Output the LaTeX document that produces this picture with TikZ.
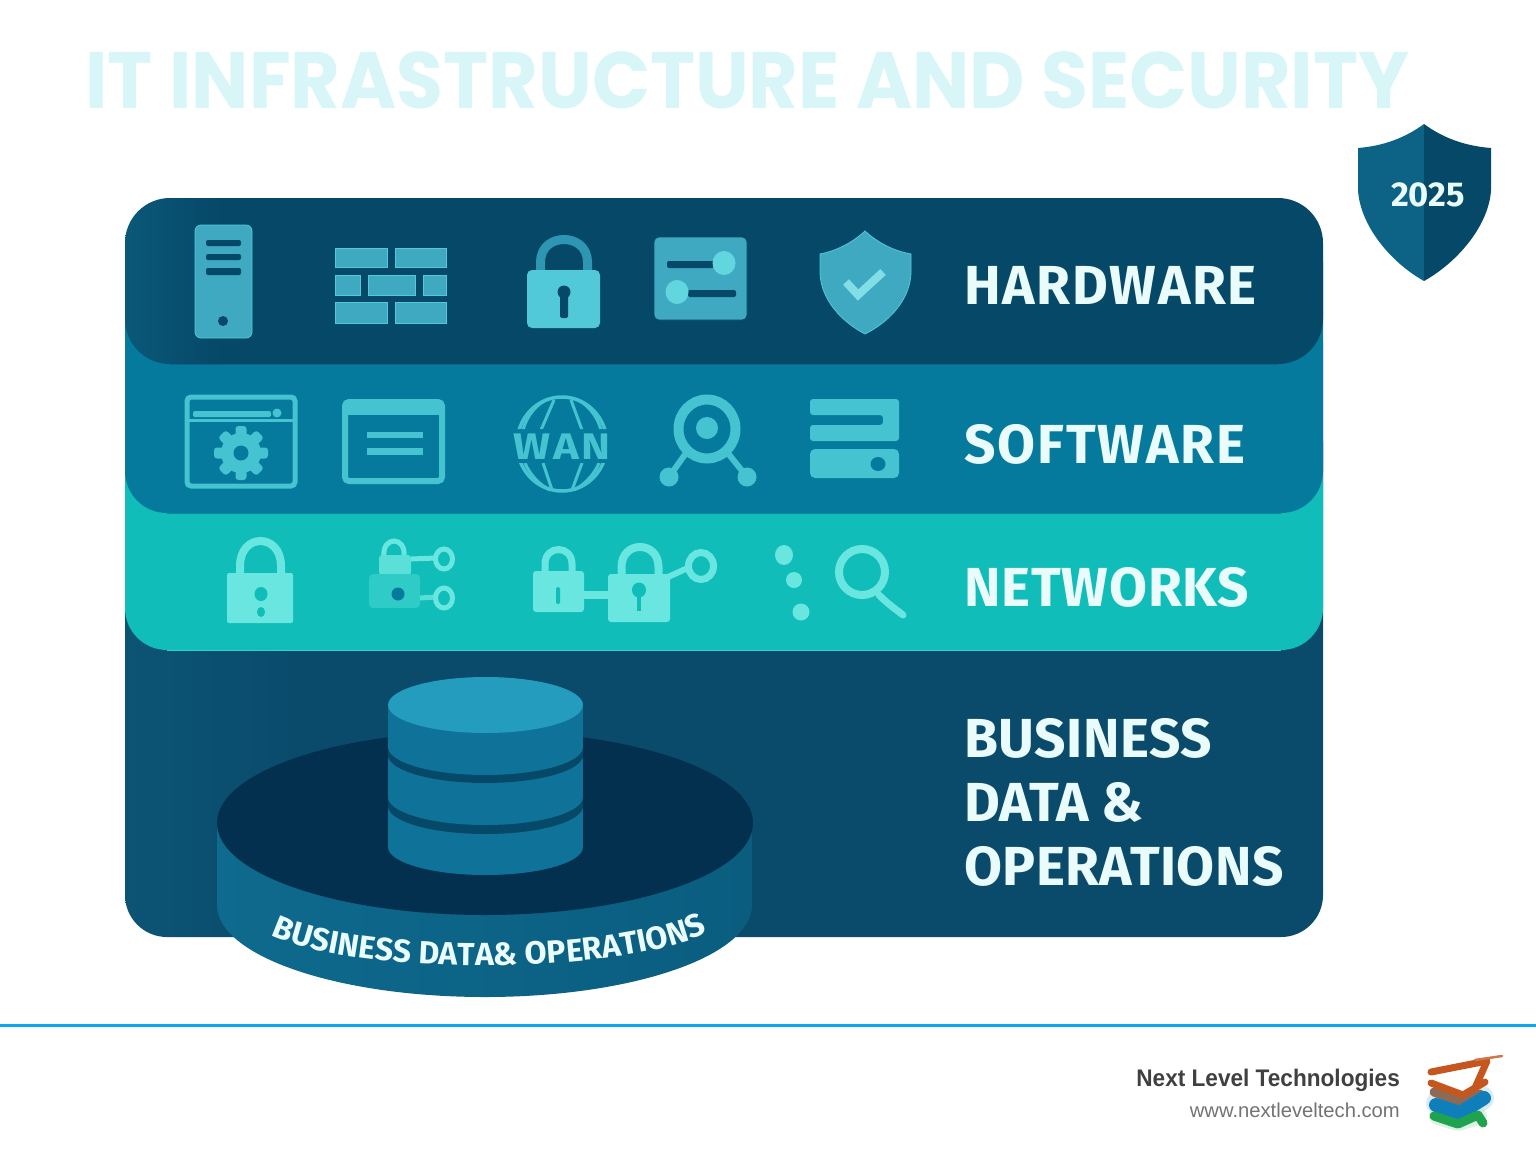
\documentclass[tikz,border=0pt]{standalone}
\usepackage{fontspec}
\usepackage{graphicx}
\setmainfont{Fira Sans}
\newfontfamily\titlefont{Poppins}
\newfontfamily\footfont{Liberation Sans}
\usetikzlibrary{decorations.text}
\definecolor{hwbase}{HTML}{064868}
\definecolor{hwedge}{HTML}{0A5878}
\definecolor{swbase}{HTML}{067A9C}
\definecolor{swedge}{HTML}{0A8A9E}
\definecolor{nwbase}{HTML}{10BDB9}
\definecolor{nwline}{HTML}{2ED3CB}
\definecolor{bzbase}{HTML}{0A4A6B}
\definecolor{bzedge}{HTML}{0C5474}
\definecolor{hwicon}{HTML}{3FA9C2}
\definecolor{hwlight}{HTML}{52C9D8}
\definecolor{hwknob}{HTML}{62D6DE}
\definecolor{hwshack}{HTML}{2E96B2}
\definecolor{swicon}{HTML}{45C3D1}
\definecolor{nwicon}{HTML}{68E6DF}
\definecolor{diskdark}{HTML}{03304F}
\definecolor{dbtop}{HTML}{239CBD}
\definecolor{dbbody}{HTML}{0F7399}
\definecolor{dbband}{HTML}{064868}
\definecolor{sidea}{HTML}{0E6A8E}
\definecolor{sideb}{HTML}{0A5D7F}
\definecolor{labeltext}{HTML}{E9FBFA}
\definecolor{titletext}{HTML}{D8F6F8}
\definecolor{ruleblue}{HTML}{0AA8F0}
\definecolor{logoorange}{HTML}{C4561E}
\definecolor{logobrown}{HTML}{8E6A55}
\definecolor{logoblue}{HTML}{0F7FBC}
\definecolor{logogreen}{HTML}{1FA34E}
\pgfdeclarehorizontalshading{hwshade}{100bp}{color(0bp)=(hwedge); color(25bp)=(hwedge); color(29bp)=(hwbase); color(100bp)=(hwbase)}
\pgfdeclarehorizontalshading{bzshade}{100bp}{color(0bp)=(bzedge); color(25bp)=(bzedge); color(33bp)=(bzbase); color(100bp)=(bzbase)}
\tikzset{
  layerbox/.style={rounded corners=42pt},
  bandlabel/.style={anchor=base west,inner sep=0pt,text=labeltext,font=\fontsize{55}{55}\selectfont\bfseries},
  slot/.style={fill=hwbase,rounded corners=2pt},
  hwfill/.style={fill=hwicon,draw=hwlight,line width=.8pt},
  swstroke/.style={draw=swicon,line cap=round,line join=round},
  nwstroke/.style={draw=nwicon,line cap=round,line join=round},
  logostroke/.style={line cap=round,line join=round},
}
\newcommand{\dbcyl}[3]{%
  \fill[#3] (388,#1) rectangle (583,#2);
  \fill[#3] (485.5,#2) ellipse [x radius=97.5pt,y radius=28pt];
  \fill[#3] (485.5,#1) ellipse [x radius=97.5pt,y radius=28pt];}
\begin{document}
\begin{tikzpicture}[x=1pt,y=-1pt]
\useasboundingbox (0,0) rectangle (1536,1154);
\fill[white] (0,0) rectangle (1536,1154);

% title
\node[anchor=base,inner sep=0pt,text=titletext] (title) at (747.5,108)
  {\scalebox{.953}[1]{\titlefont\fontsize{80}{80}\selectfont\bfseries IT INFRASTRUCTURE AND SECURITY}};

% layers, back to front: the upper corners of each lie hidden under the next one
\shade[layerbox,shading=bzshade] (125,400) rectangle (1323,937);
\fill[layerbox,fill=nwbase] (125,300) rectangle (1323,650);
\draw[nwline,line width=1pt] (167,650) -- (1281,650);
\fill[layerbox,fill=swbase] (125,220) rectangle (1323,513);
\draw[swedge,line width=1pt] (167,513) -- (1281,513);
\shade[rounded corners=45pt,shading=hwshade] (125,198) rectangle (1323,364);
\draw[swbase!60!hwbase,line width=1pt] (170,364) -- (1278,364);

% hardware icons
\fill[hwfill,rounded corners=6pt] (195,225) rectangle (252,338);
\fill[slot] (206,240) rectangle (241,246);
\fill[slot] (206,254) rectangle (241,260);
\fill[slot] (206,268) rectangle (241,275);
\fill[hwbase] (223,321) circle (5pt);
\foreach \xa/\ya/\xb/\yb in {335/248/387/267,395/248/446/267,335/275/360/295,368/275/415/295,423/275/446/295,335/302/387/323,395/302/446/323}
  \fill[hwfill] (\xa,\ya) rectangle (\xb,\yb);
\draw[hwshack,line width=9pt] (540.5,272) -- (540.5,262) .. controls (540.5,232) and (587.5,232) .. (587.5,262) -- (587.5,272);
\fill[hwlight,rounded corners=5pt] (527,270) rectangle (600,328);
\fill[hwbase] (564,292) ellipse [x radius=6.5pt,y radius=6.5pt];
\fill[hwbase,rounded corners=1.5pt] (560,294) rectangle (568,318);
\fill[hwicon,draw=hwbase,line width=.6pt,rounded corners=5pt] (654,237) rectangle (747,320);
\fill[hwbase,rounded corners=2pt] (667,261) rectangle (714,268);
\fill[hwknob] (724,263) ellipse [x radius=11.5pt,y radius=12pt];
\fill[hwbase,rounded corners=2pt] (688,290) rectangle (736,297);
\fill[hwknob] (677,292) ellipse [x radius=11.5pt,y radius=12pt];
\path[hwfill] (865,231) .. controls (852,243) and (836,251) .. (820,254)
  -- (820,273) .. controls (821,300) and (842,322) .. (865,334)
  .. controls (889,322) and (910,300) .. (911,273) -- (911,254)
  .. controls (894,251) and (878,243) .. (865,231) -- cycle;
\draw[hwknob!80!white,line width=8pt,line join=miter] (846,282) -- (858,295) -- (883,272);

% software icons
\draw[swicon,line width=5pt,rounded corners=4pt] (187,397) rectangle (295,486);
\fill[swicon] (188,419) rectangle (295,422);
\fill[swicon,rounded corners=1.5pt] (193,411) rectangle (271,417);
\fill[swicon] (277,413) circle (4.5pt);
\foreach \a in {0,45,...,315}
  \fill[swicon,rotate around={\a:(241,453)},rounded corners=3pt] (235.5,426) rectangle (246.5,442);
\fill[swicon] (241,453) circle (20pt);
\fill[swbase] (241,453) circle (7.5pt);
\draw[swicon,line width=6pt,rounded corners=4pt] (345,402) rectangle (442,481);
\fill[swicon] (345,402) rectangle (442,415);
\fill[swicon] (367,432) rectangle (423,438);
\fill[swicon] (367,448) rectangle (423,455);
\begin{scope}
  \clip (510,390) rectangle (615,429) (510,463) rectangle (615,498);
  \draw[swicon,line width=3.5pt] (562,444) ellipse [x radius=45pt,y radius=47pt];
  \draw[swicon,line width=3pt] (554,400) -- (541,430);
  \draw[swicon,line width=3pt] (571,400) -- (582,430);
  \draw[swicon,line width=3pt] (543,463) -- (552,490);
  \draw[swicon,line width=3pt] (582,463) -- (572,490);
  \draw[swicon,line width=3pt] (523,430) .. controls (527,415) and (537,404) .. (548,399);
  \draw[swicon,line width=3pt] (601,430) .. controls (597,415) and (587,404) .. (576,399);
  \draw[swicon,line width=3pt] (525,463) .. controls (530,475) and (540,485) .. (550,490);
  \draw[swicon,line width=3pt] (599,463) .. controls (594,475) and (584,485) .. (574,490);
\end{scope}
\node[inner sep=0pt,text=swicon] (wanword) at (562,447)
  {\scalebox{1.18}[1]{\fontsize{37}{37}\selectfont\bfseries W\hspace{2pt}A\hspace{2pt}N}};
\draw[swstroke,line width=6pt] (686,453) -- (669,477);
\draw[swstroke,line width=6pt] (727,452) -- (747,477);
\fill[swicon] (669,477) ellipse [x radius=9.5pt,y radius=9.5pt];
\fill[swicon] (747,477) ellipse [x radius=9.5pt,y radius=9.5pt];
\draw[swicon,line width=10pt] (707,429) ellipse [x radius=28.5pt,y radius=29.5pt];
\fill[swicon] (707,428) circle (11pt);
\fill[swicon,rounded corners=3pt] (810,399) -- (899,399) -- (899,441) -- (810,441) -- (810,425) -- (883,425) -- (883,415) -- (810,415) -- cycle;
\fill[swicon,rounded corners=5pt] (810,449) rectangle (899,478);
\fill[swbase] (878,464) ellipse [x radius=7.5pt,y radius=7pt];

% network icons
\draw[nwicon,line width=8pt] (240,575) -- (240,566) .. controls (240,532.7) and (281,532.7) .. (281,566) -- (281,575);
\fill[nwicon,rounded corners=2pt] (227,573) rectangle (293,623);
\fill[nwbase] (261,594) ellipse [x radius=6.5pt,y radius=7pt];
\fill[nwbase] (261,612) ellipse [x radius=4pt,y radius=5pt];

\draw[nwicon,line width=5pt] (384,556) .. controls (382,536) and (406,536) .. (404,556);
\fill[nwicon!85!nwbase,rounded corners=3pt] (379,555) rectangle (411,575);
\fill[nwicon!35!nwbase,rounded corners=4pt] (369,574) rectangle (420,608);
\draw[nwicon,line width=5pt] (411,559) -- (436,558);
\draw[nwicon!80!nwbase,line width=5pt] (420,598) -- (436,597);
\draw[nwicon,line width=5pt] (444,559) ellipse [x radius=8.5pt,y radius=10pt];
\draw[nwicon,line width=5pt] (444,598) ellipse [x radius=8.5pt,y radius=10pt];
\fill[swbase] (398,594) ellipse [x radius=6.5pt,y radius=6.5pt];

\draw[nwicon,line width=7pt] (545,572) -- (545,564) .. controls (545,544.7) and (572,544.7) .. (572,564) -- (572,572);
\fill[nwicon,rounded corners=3pt] (533,571) rectangle (584,612);
\fill[nwbase,rounded corners=1.5pt] (556,587) rectangle (560,604);
\draw[nwicon,line width=8pt] (584,595) -- (610,595);
\draw[nwicon,line width=8pt] (621.5,577) -- (621.5,567) .. controls (621.5,540.3) and (658.5,540.3) .. (658.5,567) -- (658.5,577);
\fill[nwicon,rounded corners=3pt] (608,574) rectangle (670,622);
\fill[nwbase] (639,590) ellipse [x radius=7pt,y radius=7.5pt];
\fill[nwbase] (637,592) rectangle (641,611);
\draw[nwicon,line width=6pt] (668,577) -- (690,567);
\draw[nwicon,line width=7pt] (701,566) ellipse [x radius=12.5pt,y radius=13.5pt];

\fill[nwicon] (784,555) ellipse [x radius=9pt,y radius=10pt];
\fill[nwicon] (794,580) ellipse [x radius=8pt,y radius=8pt];
\fill[nwicon] (801,612) ellipse [x radius=8.5pt,y radius=8.5pt];
\draw[nwicon,line width=8pt] (862,572) ellipse [x radius=23pt,y radius=23pt];
\draw[nwstroke,line width=7pt] (879,595) .. controls (888,604) and (894,608) .. (903,615);

% labels
\node[bandlabel] (hw) at (964,304) {\addfontfeature{LetterSpace=3.1}HARDWARE};
\node[bandlabel] (sw) at (964,463) {\addfontfeature{LetterSpace=3.4}SOFTWARE};
\node[bandlabel] (nw) at (964,606) {\addfontfeature{LetterSpace=1.5}NETWORKS};
\node[bandlabel] (bz1) at (964,757) {\addfontfeature{LetterSpace=1}BUSINESS};
\node[bandlabel] (bz2) at (964,821) {DATA \&};
\node[bandlabel] (bz3) at (964,885) {\addfontfeature{LetterSpace=.8}OPERATIONS};

% platter
\shade[left color=sidea,right color=sideb] (217,823) -- (217,905)
  .. controls (217,955.8) and (337,997) .. (485,997)
  .. controls (633,997) and (752,955.8) .. (752,905) -- (752,823) -- cycle;
\fill[diskdark] (485,823) ellipse [x radius=268pt,y radius=92pt];

% database
\dbcyl{810}{847}{dbbody}
\dbcyl{762}{806}{dbband}
\dbcyl{760}{797}{dbbody}
\dbcyl{715}{755}{dbband}
\dbcyl{710}{747}{dbbody}
\fill[dbtop] (485.5,705) ellipse [x radius=97.5pt,y radius=28pt];

% curved caption
\path[decorate,decoration={text along path,text align={fit to path},
   text={|\fontsize{32}{32}\selectfont\bfseries\color{labeltext}|BUSINESS DATA{\&} OPERATIONS}}]
   (271,935) .. controls (355,976) and (615,976) .. (707,933);

% badge
\fill[hwedge!60!dbbody] (1424,124) .. controls (1405,138) and (1383,146) .. (1358,148)
  -- (1358,190) .. controls (1360,225) and (1390,262) .. (1424,281) -- cycle;
\fill[hwbase] (1424,124) .. controls (1443,138) and (1465,146) .. (1491,148)
  -- (1491,190) .. controls (1489,225) and (1458,262) .. (1424,281) -- cycle;
\node[inner sep=0pt,text=labeltext,font=\fontsize{34.5}{34.5}\selectfont\bfseries] (year) at (1428,195) {2025};

% footer
\draw[ruleblue,line width=3pt] (0,1025) -- (1536,1025);
\node[anchor=base east,inner sep=0pt,text=black!75] (brand) at (1400,1086)
  {\scalebox{.942}[1]{\footfont\fontsize{24}{24}\selectfont\bfseries Next Level Technologies}};
\node[anchor=base east,inner sep=0pt,text=black!55,font=\footfont\fontsize{20.2}{20.2}\selectfont] (site) at (1400,1117) {www.nextleveltech.com};

% logo
\begin{scope}[logostroke]
  \draw[logoblue!25,line width=24pt,opacity=.6] (1438,1103) -- (1460,1112) -- (1482,1098);
  \draw[logogreen!25,line width=18pt,opacity=.6] (1438,1116) -- (1458,1122) -- (1478,1116);
  \draw[logobrown,line width=9pt] (1434,1092) -- (1462,1103) -- (1480,1094);
  \draw[logoblue,line width=14pt] (1436,1105) -- (1460,1113) -- (1484,1098);
  \draw[logogreen,line width=9pt] (1434,1116) -- (1458,1124) -- (1478,1115) -- (1483,1123);
  \draw[logoorange,line width=7pt] (1431,1072) -- (1487,1061) -- (1475,1088);
  \draw[logoorange,line width=7pt] (1431,1083) -- (1463,1095) -- (1485,1082);
  \draw[logoorange!80,line width=2.5pt] (1475,1060) -- (1502,1056);
\end{scope}
\end{tikzpicture}
\end{document}
